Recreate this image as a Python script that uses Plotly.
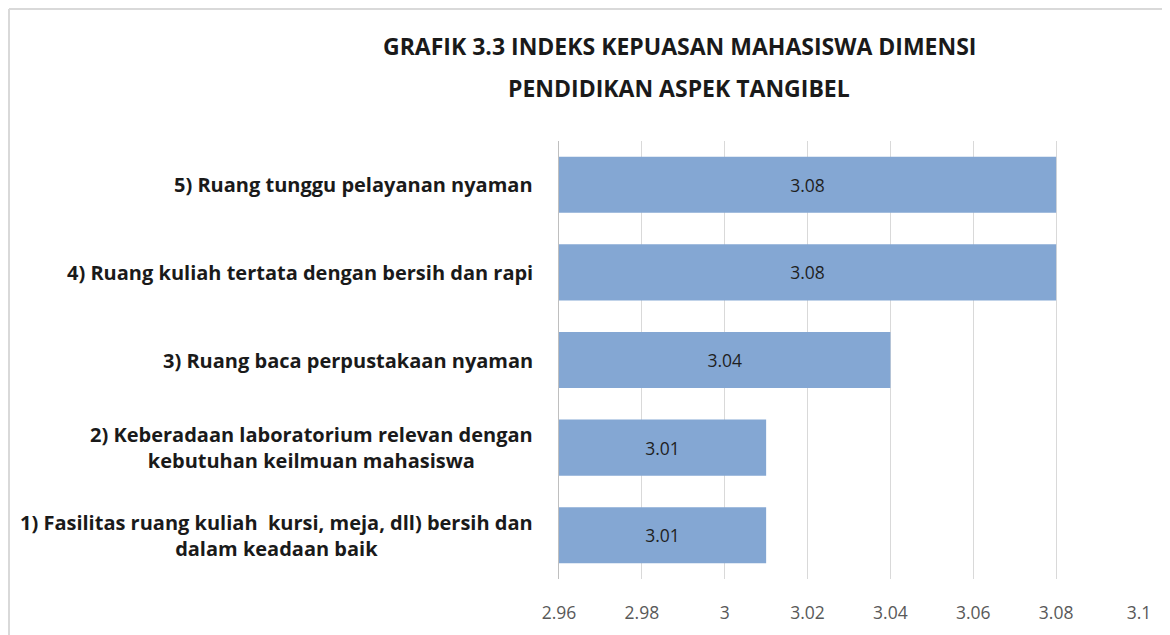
import plotly.graph_objects as go

categories = [
    "1) Fasilitas ruang kuliah  kursi, meja, dll) bersih dan<br>dalam keadaan baik",
    "2) Keberadaan laboratorium relevan dengan<br>kebutuhan keilmuan mahasiswa",
    "3) Ruang baca perpustakaan nyaman",
    "4) Ruang kuliah tertata dengan bersih dan rapi",
    "5) Ruang tunggu pelayanan nyaman",
]
values = [3.01, 3.01, 3.04, 3.08, 3.08]
tick_vals = [2.96, 2.98, 3.00, 3.02, 3.04, 3.06, 3.08, 3.10]
tick_text = ["2.96", "2.98", "3", "3.02", "3.04", "3.06", "3.08", "3.1"]
title_lines = ["GRAFIK 3.3 INDEKS KEPUASAN MAHASISWA DIMENSI", "PENDIDIKAN ASPEK TANGIBEL"]
axis_min = 2.96
axis_max = 3.10

FONT = "Open Sans"
W, H = 1162, 627
L, R, T, B = 551, 31, 133, 56
PW, PH = W - L - R, H - T - B


def px_x(x):
    return (x - L) / PW


def px_y(y):
    return (H - B - y) / PH


fig = go.Figure()
fig.add_trace(go.Bar(
    y=list(range(len(categories))),
    x=[v - axis_min for v in values],
    base=axis_min,
    orientation="h",
    width=0.64,
    marker=dict(color="#84A7D3", line=dict(width=0)),
    text=[f"{v:.2f}" for v in values],
    textposition="inside",
    insidetextanchor="middle",
    textangle=0,
    textfont=dict(family=FONT, size=17.5, color="#1f1f1f"),
    hoverinfo="skip",
))

for i, c in enumerate(categories):
    fig.add_annotation(
        xref="paper", yref="y", x=0, y=i, xanchor="right", yanchor="middle",
        xshift=-24, text="<b>" + c + "</b>", showarrow=False, align="center",
        font=dict(family=FONT, size=20, color="#1a1a1a"),
    )

for j, (line, yc) in enumerate(zip(title_lines, [38, 80])):
    fig.add_annotation(
        xref="paper", yref="paper", x=px_x(671), y=px_y(yc),
        xanchor="center", yanchor="middle", showarrow=False,
        text="<b>" + line + "</b>",
        font=dict(family=FONT, size=23, color="#1a1a1a"),
    )

fig.update_layout(
    width=W, height=H,
    margin=dict(l=L, r=R, t=T, b=B, autoexpand=False),
    paper_bgcolor="white", plot_bgcolor="white",
    showlegend=False,
    xaxis=dict(
        range=[axis_min, axis_max], tickvals=tick_vals, ticktext=tick_text,
        showgrid=True, gridcolor="#D9D9D9", gridwidth=1, zeroline=False,
        showline=False, ticks="", ticklabelstandoff=21, automargin=False,
        tickfont=dict(family=FONT, size=17.5, color="#595959"),
    ),
    yaxis=dict(
        range=[-0.5, len(categories) - 0.5], showticklabels=False,
        showgrid=False, zeroline=False, showline=True, linecolor="#BFBFBF",
        linewidth=1, ticks="", automargin=False,
    ),
    shapes=[
        dict(type="line", xref="paper", yref="paper", x0=px_x(1), x1=2,
             y0=px_y(1), y1=px_y(1), line=dict(color="#D9D9D9", width=2)),
        dict(type="line", xref="paper", yref="paper", x0=px_x(1), x1=px_x(1),
             y0=px_y(H + 10), y1=px_y(1), line=dict(color="#D9D9D9", width=2)),
    ],
)

fig.write_html("out.html")
